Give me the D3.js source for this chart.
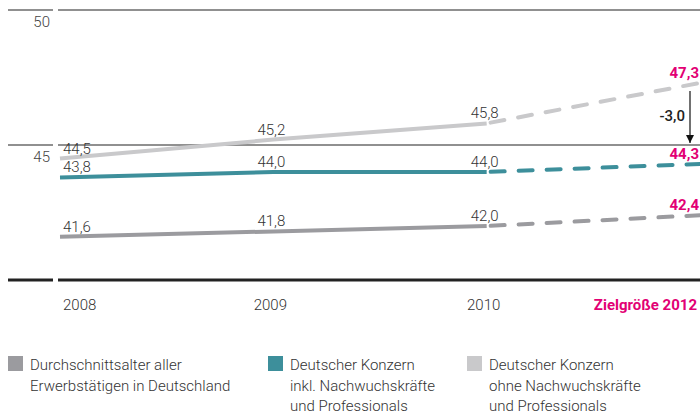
<!DOCTYPE html>
<html>
<head>
<meta charset="utf-8">
<script src="https://cdn.jsdelivr.net/npm/d3@7"></script>
<style>
  body { margin: 0; background: #fff; }
  svg { display: block; font-family: "Roboto", "Liberation Sans", sans-serif; }
</style>
</head>
<body>
<div id="chart"></div>
<script>
// data
var years = ["2008", "2009", "2010", "2012"];
var yearLabels = ["2008", "2009", "2010", "Zielgröße 2012"];
var yTicks = [40, 45, 50];
var germanyAvg = [41.6, 41.8, 42.0, 42.4];
var konzernInkl = [43.8, 44.0, 44.0, 44.3];
var konzernOhne = [44.5, 45.2, 45.8, 47.3];
var targetGap = "-3,0";

var seriesNames = [
  ["Durchschnittsalter aller", "Erwerbstätigen in Deutschland"],
  ["Deutscher Konzern", "inkl. Nachwuchskräfte", "und Professionals"],
  ["Deutscher Konzern", "ohne Nachwuchskräfte", "und Professionals"]
];
var series = [germanyAvg, konzernInkl, konzernOhne];
var colors = ["#9b9b9f", "#3d8f9b", "#c9c9cb"];
var magenta = "#e20074";

var width = 700, height = 419;

var svg = d3.select("#chart").append("svg")
    .attr("width", width)
    .attr("height", height);

var x = d3.scalePoint()
    .domain(years)
    .range([60, 700]);

var y = d3.scaleLinear()
    .domain([40, 50])
    .range([280, 10]);

var fmt = function(v) { return d3.format(".1f")(v).replace(".", ","); };

// gridlines + y labels
yTicks.forEach(function(t) {
  var w = t === 40 ? 3 : 1.2;
  svg.append("line").attr("x1", 8).attr("x2", 53).attr("y1", y(t)).attr("y2", y(t))
      .attr("stroke", "#222").attr("stroke-width", w);
  svg.append("line").attr("x1", 58).attr("x2", width).attr("y1", y(t)).attr("y2", y(t))
      .attr("stroke", "#222").attr("stroke-width", w);
  if (t !== 40) {
    svg.append("text").attr("x", 50).attr("y", y(t) + 17)
        .attr("text-anchor", "end").attr("font-size", 15).attr("font-weight", 300)
        .attr("fill", "#444").text(t);
  }
});

var line = d3.line()
    .x(function(d) { return x(d.year); })
    .y(function(d) { return y(d.value); });

series.forEach(function(vals, i) {
  var pts = years.map(function(yr, j) { return {year: yr, value: vals[j]}; });
  svg.append("path").datum(pts.slice(0, 3))
      .attr("d", line).attr("fill", "none")
      .attr("stroke", colors[i]).attr("stroke-width", 4);
  svg.append("path").datum(pts.slice(2))
      .attr("d", line).attr("fill", "none")
      .attr("stroke", colors[i]).attr("stroke-width", 4)
      .attr("stroke-linecap", "round")
      .attr("stroke-dasharray", "14,14")
      .attr("stroke-dashoffset", -4);

  // value labels
  pts.forEach(function(p, j) {
    var last = j === years.length - 1;
    var anchor = j === 0 ? "start" : (last ? "end" : "middle");
    var lx = j === 0 ? x(p.year) + 3 : (last ? width - 1 : x(p.year) - 2);
    svg.append("text")
        .attr("x", lx).attr("y", y(p.value) - 5)
        .attr("text-anchor", anchor)
        .attr("font-size", 15)
        .attr("font-weight", last ? 700 : 300)
        .attr("fill", last ? magenta : "#333")
        .text(fmt(p.value));
  });
});

// arrow for target gap
svg.append("defs").append("marker")
    .attr("id", "arr").attr("viewBox", "0 0 10 10")
    .attr("refX", 10).attr("refY", 5)
    .attr("markerWidth", 8).attr("markerHeight", 8)
    .attr("markerUnits", "userSpaceOnUse")
    .attr("orient", "auto")
  .append("path").attr("d", "M0,0L10,5L0,10z").attr("fill", "#111");

svg.append("line")
    .attr("x1", 690).attr("x2", 690)
    .attr("y1", y(konzernOhne[3]) + 8).attr("y2", y(45) - 2)
    .attr("stroke", "#111").attr("stroke-width", 1.2)
    .attr("marker-end", "url(#arr)");
svg.append("text").attr("x", 685).attr("y", 121)
    .attr("text-anchor", "end").attr("font-size", 15).attr("font-weight", 500)
    .attr("fill", "#222").text(targetGap);

// x labels
yearLabels.forEach(function(lab, j) {
  var last = j === yearLabels.length - 1;
  var anchor = j === 0 ? "start" : (last ? "end" : "middle");
  var lx = j === 0 ? x(years[j]) + 3 : (last ? width - 3 : x(years[j]) - 3);
  svg.append("text").attr("x", lx).attr("y", 310)
      .attr("text-anchor", anchor).attr("font-size", 15)
      .attr("font-weight", last ? 700 : 300)
      .attr("fill", last ? magenta : "#333")
      .text(lab);
});

// legend
var legendX = [8, 268, 467];
seriesNames.forEach(function(lines, i) {
  var g = svg.append("g").attr("transform", "translate(" + legendX[i] + ",356)");
  g.append("rect").attr("width", 15).attr("height", 15).attr("fill", colors[i]);
  lines.forEach(function(t, k) {
    g.append("text").attr("x", 22).attr("y", 14 + k * 20.5)
        .attr("font-size", 15).attr("font-weight", 300)
        .attr("fill", "#333").text(t);
  });
});
</script>
</body>
</html>
